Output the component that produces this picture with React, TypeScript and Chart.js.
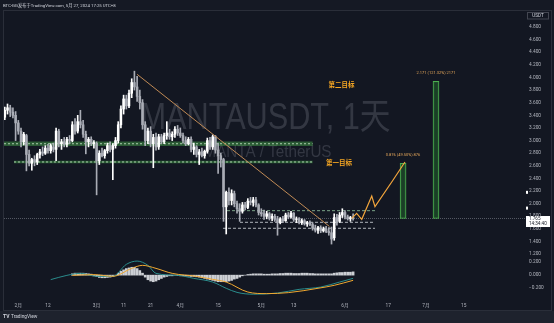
import React, { useEffect, useRef } from 'react';
import { Chart, registerables } from 'chart.js';

Chart.register(...registerables);

const FONT = "Roboto, 'Noto Sans CJK SC', 'DejaVu Sans', sans-serif";
const HEADER_TEXT = 'BTC-GG发布于TradingView.com, 5月 27, 2024 17:25 UTC+8';
const WATERMARK_MAIN = 'MANTAUSDT, 1天';
const WATERMARK_SUB = 'MANTA / TetherUS';

// day index 0 = Feb 1 2024
const FIRST_DAY = -5;
const opens = [
  3.37, 3.48, 3.52, 3.45, 3.40, 3.28, 3.15, 2.98, 3.08, 2.78,
  2.64, 2.70, 2.66, 2.78, 2.82, 2.80, 2.88, 2.84, 2.90, 2.86,
  3.15, 2.95, 2.98, 2.94, 3.02, 3.00, 3.25, 3.15, 3.30, 3.25,
  3.10, 2.98, 3.02, 2.95, 2.95, 2.68, 2.80, 2.76, 2.84, 2.92,
  2.86, 2.92, 3.00, 3.25, 3.50, 3.66, 3.55, 3.75, 3.92, 3.85,
  3.70, 3.60, 3.25, 3.00, 3.15, 2.95, 3.05, 2.90, 3.06, 2.98,
  3.08, 3.12, 3.06, 3.10, 3.18, 3.12, 3.08, 3.00, 2.95, 3.02,
  2.86, 2.90, 2.78, 2.82, 2.76, 2.83, 3.00, 2.90, 3.06, 2.85,
  2.76, 2.70, 1.95, 2.18, 2.05, 2.16, 2.00, 1.92, 1.88, 1.98,
  1.94, 2.04, 2.02, 2.06, 1.98, 1.86, 1.84, 1.80, 1.84, 1.77,
  1.80, 1.75, 1.70, 1.76, 1.73, 1.82, 1.79, 1.85, 1.75, 1.76,
  1.70, 1.73, 1.68, 1.70, 1.67, 1.61, 1.58, 1.62, 1.57, 1.60,
  1.56, 1.54, 1.46, 1.78, 1.72, 1.82, 1.86, 1.79, 1.76, 1.78,
];
const highs = [
  3.53, 3.58, 3.56, 3.52, 3.46, 3.32, 3.20, 3.13, 3.10, 2.85,
  2.72, 2.76, 2.80, 2.86, 2.90, 2.92, 2.94, 2.95, 2.96, 3.20,
  3.18, 3.02, 3.05, 3.05, 3.08, 3.30, 3.35, 3.40, 3.48, 3.32,
  3.15, 3.05, 3.06, 3.00, 2.98, 2.84, 2.88, 2.86, 2.96, 2.98,
  2.95, 3.05, 3.30, 3.55, 3.72, 3.72, 3.80, 3.98, 4.10, 4.02,
  3.80, 3.65, 3.30, 3.20, 3.22, 3.10, 3.12, 3.10, 3.10, 3.12,
  3.30, 3.18, 3.14, 3.22, 3.24, 3.20, 3.12, 3.06, 3.05, 3.06,
  2.96, 2.92, 2.86, 2.88, 2.85, 3.04, 3.05, 3.09, 3.08, 2.96,
  2.80, 2.72, 2.20, 2.25, 2.22, 2.20, 2.04, 2.00, 2.02, 2.02,
  2.08, 2.10, 2.10, 2.10, 2.00, 1.92, 1.90, 1.88, 1.86, 1.84,
  1.83, 1.80, 1.78, 1.80, 1.85, 1.86, 1.88, 1.86, 1.79, 1.78,
  1.76, 1.75, 1.72, 1.73, 1.70, 1.66, 1.64, 1.65, 1.63, 1.64,
  1.62, 1.63, 1.84, 1.83, 1.86, 1.92, 1.89, 1.82, 1.80, 1.84,
];
const lows = [
  3.33, 3.42, 3.38, 3.36, 3.00, 3.10, 2.90, 2.93, 2.52, 2.60,
  2.53, 2.60, 2.62, 2.72, 2.76, 2.78, 2.80, 2.80, 2.82, 2.68,
  2.90, 2.86, 2.90, 2.90, 2.95, 2.98, 3.10, 3.12, 3.20, 3.05,
  2.79, 2.90, 2.92, 2.88, 2.14, 2.62, 2.74, 2.72, 2.80, 2.82,
  2.38, 2.88, 2.96, 3.20, 3.42, 3.50, 3.52, 3.68, 3.80, 3.62,
  3.50, 3.18, 2.92, 2.95, 2.90, 2.57, 2.85, 2.86, 2.95, 2.95,
  3.02, 3.02, 3.00, 3.05, 3.08, 3.05, 2.96, 2.92, 2.93, 2.82,
  2.78, 2.74, 2.62, 2.74, 2.72, 2.80, 2.86, 2.86, 2.80, 2.48,
  2.58, 1.72, 1.52, 1.98, 1.98, 1.95, 1.85, 1.72, 1.85, 1.90,
  1.92, 1.98, 1.96, 1.95, 1.82, 1.80, 1.75, 1.76, 1.74, 1.73,
  1.72, 1.50, 1.68, 1.70, 1.72, 1.76, 1.77, 1.72, 1.70, 1.68,
  1.67, 1.66, 1.64, 1.65, 1.58, 1.55, 1.53, 1.54, 1.55, 1.54,
  1.50, 1.36, 1.42, 1.66, 1.70, 1.78, 1.76, 1.74, 1.72, 1.74,
];
const closes = [
  3.48, 3.52, 3.45, 3.40, 3.28, 3.15, 2.98, 3.10, 2.78, 2.64,
  2.70, 2.66, 2.78, 2.82, 2.80, 2.88, 2.84, 2.92, 2.86, 3.15,
  2.95, 2.98, 2.94, 3.02, 3.00, 3.25, 3.15, 3.30, 3.25, 3.10,
  2.98, 3.02, 2.95, 2.97, 2.68, 2.80, 2.76, 2.84, 2.92, 2.86,
  2.92, 3.00, 3.25, 3.50, 3.66, 3.55, 3.75, 3.92, 3.85, 3.70,
  3.60, 3.25, 3.00, 3.15, 2.95, 3.05, 2.90, 3.06, 2.98, 3.08,
  3.12, 3.06, 3.10, 3.18, 3.12, 3.08, 3.00, 2.95, 3.02, 2.86,
  2.90, 2.78, 2.82, 2.76, 2.83, 3.00, 2.90, 3.06, 2.85, 2.76,
  2.70, 1.95, 2.18, 2.05, 2.16, 2.00, 1.92, 1.88, 1.98, 1.94,
  2.04, 2.02, 2.06, 1.98, 1.86, 1.84, 1.80, 1.84, 1.77, 1.80,
  1.75, 1.70, 1.76, 1.73, 1.82, 1.79, 1.85, 1.75, 1.76, 1.70,
  1.73, 1.68, 1.70, 1.67, 1.61, 1.58, 1.62, 1.57, 1.60, 1.56,
  1.54, 1.44, 1.78, 1.72, 1.82, 1.86, 1.79, 1.76, 1.78, 1.765,
];

const xTickDays = [0, 11, 29, 39, 49, 60, 74, 90, 102, 121, 137, 151, 165];
const xTickLabels = ['2月', '12', '3月', '11', '21', '4月', '15', '5月', '13', '6月', '17', '7月', '15'];
const priceTicks = [4.8, 4.6, 4.4, 4.2, 4.0, 3.8, 3.6, 3.4, 3.2, 3.0, 2.8, 2.6, 2.4, 2.2, 2.0, 1.8, 1.6, 1.4, 1.2];
const macdTicks = [0.2, 0, -0.2];

// MACD indicator
const macdDays = [12, 18, 23, 29, 35, 40, 44, 48, 51, 59, 65, 72, 77, 81, 87, 96, 104, 112, 119, 124];
const macdValues = [-0.068, -0.003, 0.027, -0.018, -0.018, 0.164, 0.214, 0.149, 0.027, -0.003, -0.049, -0.105, -0.2, -0.262, -0.29, -0.272, -0.216, -0.181, -0.105, -0.049];
const signalDays = [20, 28, 35, 42, 46, 51, 57, 66, 72, 77, 85, 92, 100, 111, 117, 124];
const signalValues = [-0.003, 0.008, -0.018, 0.103, 0.149, 0.103, 0.027, -0.018, -0.064, -0.105, -0.257, -0.281, -0.266, -0.2, -0.155, -0.079];
const HIST_FIRST_DAY = 20;
const histValues = [
  0.02, 0.03, 0.03, 0.03, 0.03, 0.025, 0.02, 0.015,
  -0.01, -0.02, -0.035, -0.04, -0.04, -0.035, -0.03, -0.02,
  0.0, 0.03, 0.06, 0.08, 0.1, 0.11, 0.12, 0.12, 0.1, 0.07,
  0.03, -0.03, -0.07, -0.09, -0.1, -0.09, -0.07,
  -0.05, -0.03, -0.02, -0.01, -0.01, 0.0,
  -0.005, -0.01, -0.01, -0.015, -0.015, -0.02, -0.02, -0.025, -0.03,
  -0.04, -0.05, -0.06, -0.07, -0.08, -0.09, -0.1, -0.1, -0.1, -0.1, -0.09, -0.08, -0.06, -0.05, -0.03,
  -0.01, 0.0, 0.01, 0.015, 0.02, 0.02, 0.02, 0.02, 0.015, 0.015,
  0.015, 0.02, 0.02, 0.02, 0.025, 0.025, 0.03, 0.03, 0.03, 0.025, 0.025, 0.025, 0.03, 0.03, 0.03, 0.025, 0.025, 0.02,
  0.02, 0.02, 0.02, 0.02, 0.02, 0.02, 0.03, 0.035, 0.04, 0.04, 0.045, 0.045, 0.045, 0.05,
];

// drawings
const trendDays = [44, 115.2];
const trendPrices = [4.05, 1.64];
const zigzagDays = [123.5, 125.3, 127.2, 130.9, 132.1, 138.8, 143.2];
const zigzagPrices = [1.768, 1.847, 1.752, 2.122, 1.952, 2.375, 2.66];
const targetDays = [142.5, 154.7];
const targetBase = 1.765;
const targetPrices = [2.64, 3.94];
const targetLabels = ['0.876 (49.50%) 876', '2.171 (121.32%) 2171'];
const targetNames = ['第一目标', '第二目标'];
const targetNameDays = [118.8, 119.7];
const targetNamePrices = [2.645, 3.88];
const lastPrice = 1.765;
const countdown = '14:34:40';
const axisFlagPrices = [2.18, 1.93];

const bandPrice = 2.95;
const bandDays = [-5.3, 109];
const greenLinePrice = 2.661;
const greenLineDays = [-1.6, 109];
const dashPrices = [1.889, 1.705, 1.61];
const dashStartDays = [77.3, 82.1, 75.8];
const dashEndDay = 132.1;

const X_MIN = -5.3;
const X_MAX = 188.4;

const seg = (d0: number, d1: number, p0: number, p1: number) => [
  { x: d0, y: p0 },
  { x: d1, y: p1 },
];

const overlayPlugin = {
  id: 'overlay',
  beforeDraw(chart: any) {
    const { ctx, width, height } = chart;
    ctx.save();
    ctx.fillStyle = '#151924';
    ctx.fillRect(0, 0, width, height);
    ctx.fillStyle = '#131722';
    ctx.fillRect(4, 11, 547, 299);
    ctx.fillStyle = '#1e222d';
    ctx.fillRect(0, 311, width, height - 311);
    ctx.strokeStyle = '#2a2e39';
    ctx.lineWidth = 1;
    ctx.strokeRect(3.5, 10.5, 548, 300);
    ctx.fillStyle = '#d1d4dc';
    ctx.textAlign = 'left';
    ctx.textBaseline = 'middle';
    ctx.font = `4.3px ${FONT}`;
    ctx.fillText(HEADER_TEXT, 3, 5.5);
    ctx.font = `bold 5px ${FONT}`;
    ctx.fillText('TV', 3, 317);
    ctx.font = `4.8px ${FONT}`;
    ctx.fillText('TradingView', 11, 317);
    ctx.restore();
  },
  beforeDatasetsDraw(chart: any) {
    const { ctx, chartArea } = chart;
    const cx = (chartArea.left + chartArea.right) / 2;
    ctx.save();
    ctx.fillStyle = 'rgba(125,129,141,0.3)';
    ctx.textAlign = 'center';
    ctx.textBaseline = 'alphabetic';
    ctx.font = `36px 'Liberation Sans', 'Noto Sans CJK SC', sans-serif`;
    ctx.fillText(WATERMARK_MAIN, cx, 129, 250);
    ctx.font = `16px 'Liberation Sans', sans-serif`;
    ctx.fillText(WATERMARK_SUB, cx + 2, 157, 128);
    ctx.restore();
  },
  afterDraw(chart: any) {
    const { ctx, scales } = chart;
    const xs = scales.x;
    const ys = scales.y;
    ctx.save();
    // target names
    ctx.textAlign = 'center';
    ctx.textBaseline = 'middle';
    ctx.fillStyle = '#f5a623';
    ctx.font = `bold 6.5px ${FONT}`;
    targetNames.forEach((t, i) => {
      ctx.fillText(t, xs.getPixelForValue(targetNameDays[i]), ys.getPixelForValue(targetNamePrices[i]));
    });
    // target value labels
    ctx.fillStyle = '#e3a65a';
    ctx.font = `4px ${FONT}`;
    targetLabels.forEach((t, i) => {
      ctx.fillText(t, xs.getPixelForValue(targetDays[i]), ys.getPixelForValue(targetPrices[i]) - 8);
    });
    // USDT box
    ctx.strokeStyle = '#434651';
    ctx.lineWidth = 1;
    ctx.strokeRect(527.5, 12.5, 21, 6.5);
    ctx.fillStyle = '#d1d4dc';
    ctx.font = `4.6px ${FONT}`;
    ctx.fillText('USDT', 538, 15.8);
    // small flags on the price axis
    ctx.fillStyle = '#ffffff';
    axisFlagPrices.forEach((p) => {
      const fy = ys.getPixelForValue(p);
      ctx.fillRect(526, fy - 1.5, 2, 3);
    });
    // last price box
    const py = ys.getPixelForValue(lastPrice);
    ctx.fillStyle = '#ffffff';
    ctx.fillRect(526, py - 2.5, 24, 11);
    ctx.fillStyle = '#131722';
    ctx.textAlign = 'left';
    ctx.font = `4.6px ${FONT}`;
    ctx.fillText(lastPrice.toFixed(3), 529, py + 0.3);
    ctx.fillText(countdown, 529, py + 5.6);
    ctx.restore();
  },
};

export default function App() {
  const canvasRef = useRef<HTMLCanvasElement | null>(null);

  useEffect(() => {
    document.body.style.margin = '0';
    document.body.style.background = '#131722';
    const canvas = canvasRef.current;
    if (!canvas) return;

    const days = opens.map((_, i) => FIRST_DAY + i);
    const colors = opens.map((o, i) => (closes[i] >= o ? '#ffffff' : '#a9acb5'));

    const datasets: any[] = [
      {
        type: 'line', data: seg(bandDays[0], bandDays[1], bandPrice, bandPrice), yAxisID: 'y',
        borderColor: 'rgba(67,160,71,0.5)', borderWidth: 4.5, pointRadius: 0, order: 90,
      },
      {
        type: 'line', data: seg(bandDays[0], bandDays[1], bandPrice, bandPrice), yAxisID: 'y',
        borderColor: 'rgba(205,235,205,0.8)', borderWidth: 1, borderDash: [2, 2], pointRadius: 0, order: 89,
      },
      {
        type: 'line', data: seg(greenLineDays[0], greenLineDays[1], greenLinePrice, greenLinePrice), yAxisID: 'y',
        borderColor: 'rgba(67,160,71,0.5)', borderWidth: 2.5, pointRadius: 0, order: 88,
      },
      {
        type: 'line', data: seg(greenLineDays[0], greenLineDays[1], greenLinePrice, greenLinePrice), yAxisID: 'y',
        borderColor: 'rgba(205,235,205,0.8)', borderWidth: 1, borderDash: [2, 2], pointRadius: 0, order: 87,
      },
      ...dashPrices.map((p, i) => ({
        type: 'line', data: seg(dashStartDays[i], dashEndDay, p, p), yAxisID: 'y',
        borderColor: i === 0 ? 'rgba(150,200,160,0.8)' : 'rgba(215,220,225,0.8)', borderWidth: 1,
        borderDash: [3, 2], pointRadius: 0, order: 86,
      })),
      {
        type: 'line', data: seg(X_MIN, X_MAX, lastPrice, lastPrice), yAxisID: 'y',
        borderColor: 'rgba(140,144,155,0.55)', borderWidth: 1, borderDash: [1, 1], pointRadius: 0, order: 85,
      },
      {
        type: 'bar', yAxisID: 'y', grouped: false, barThickness: 6, order: 70,
        data: targetDays.map((d, i) => ({ x: d, y: [targetBase, targetPrices[i]] })),
        backgroundColor: 'rgba(28,70,40,0.85)', borderColor: '#4caf50', borderWidth: 1, borderSkipped: false,
      },
      {
        type: 'bar', yAxisID: 'y', grouped: false, barThickness: 1, order: 40,
        data: days.map((d, i) => ({ x: d, y: [lows[i], highs[i]] })),
        backgroundColor: colors,
      },
      {
        type: 'bar', yAxisID: 'y', grouped: false, barThickness: 1.9, order: 35,
        data: days.map((d, i) => ({ x: d, y: [Math.min(opens[i], closes[i]), Math.max(opens[i], closes[i])] })),
        backgroundColor: colors,
      },
      {
        type: 'bar', yAxisID: 'y2', grouped: false, barThickness: 2, order: 45,
        data: histValues.map((v, i) => ({ x: HIST_FIRST_DAY + i, y: v })),
        backgroundColor: 'rgba(225,227,232,0.9)',
      },
      {
        type: 'line', yAxisID: 'y2', data: macdDays.map((d, i) => ({ x: d, y: macdValues[i] })),
        borderColor: '#2a8c8c', borderWidth: 1, pointRadius: 0, cubicInterpolationMode: 'monotone', order: 31,
      },
      {
        type: 'line', yAxisID: 'y2', data: signalDays.map((d, i) => ({ x: d, y: signalValues[i] })),
        borderColor: '#f0a830', borderWidth: 1, pointRadius: 0, cubicInterpolationMode: 'monotone', order: 30,
      },
      {
        type: 'line', yAxisID: 'y', data: trendDays.map((d, i) => ({ x: d, y: trendPrices[i] })),
        borderColor: '#c08a55', borderWidth: 1, pointRadius: 0, order: 20,
      },
      {
        type: 'line', yAxisID: 'y', data: zigzagDays.map((d, i) => ({ x: d, y: zigzagPrices[i] })),
        borderColor: '#f2a53c', borderWidth: 1.2, pointRadius: 0, order: 15,
      },
    ];

    const tickFont = { size: 4.8, family: FONT };

    const chart = new Chart(canvas, {
      type: 'bar',
      data: { datasets },
      plugins: [overlayPlugin],
      options: {
        animation: false,
        responsive: false,
        maintainAspectRatio: false,
        events: [],
        layout: { padding: { left: 4, right: 0, top: 10, bottom: 13 } },
        plugins: { legend: { display: false }, tooltip: { enabled: false } },
        scales: {
          x: {
            type: 'linear', min: X_MIN, max: X_MAX, offset: false,
            grid: { display: false, drawTicks: false }, border: { display: false },
            afterBuildTicks: (s: any) => { s.ticks = xTickDays.map((v) => ({ value: v })); },
            afterFit: (s: any) => { s.height = 10; },
            ticks: {
              autoSkip: false, maxRotation: 0, padding: 3, color: '#b2b5be', font: tickFont,
              callback: (_v: any, i: number) => xTickLabels[i],
            },
          },
          y: {
            type: 'linear', position: 'right', stack: 'right', stackWeight: 248,
            min: 1.1392, max: 5.0694,
            grid: { display: false, drawTicks: false }, border: { display: false },
            afterBuildTicks: (s: any) => { s.ticks = priceTicks.map((v) => ({ value: v })); },
            afterFit: (s: any) => { s.width = 27; },
            ticks: {
              autoSkip: false, padding: 2, color: '#b2b5be', font: tickFont,
              callback: (v: any) => Number(v).toFixed(3),
            },
          },
          y2: {
            type: 'linear', position: 'right', stack: 'right', stackWeight: 42,
            min: -0.378, max: 0.2608,
            grid: { display: false, drawTicks: false }, border: { display: false },
            afterBuildTicks: (s: any) => { s.ticks = macdTicks.map((v) => ({ value: v })); },
            afterFit: (s: any) => { s.width = 27; },
            ticks: {
              autoSkip: false, padding: 2, color: '#b2b5be', font: tickFont,
              callback: (v: any) => (Number(v) < 0 ? '\u2212' : '') + Math.abs(Number(v)).toFixed(3),
            },
          },
        },
      } as any,
    });

    return () => chart.destroy();
  }, []);

  return (
    <div style={{ width: 554, height: 323, background: '#131722' }}>
      <canvas ref={canvasRef} width={554} height={323} style={{ display: 'block', width: 554, height: 323 }} />
    </div>
  );
}
